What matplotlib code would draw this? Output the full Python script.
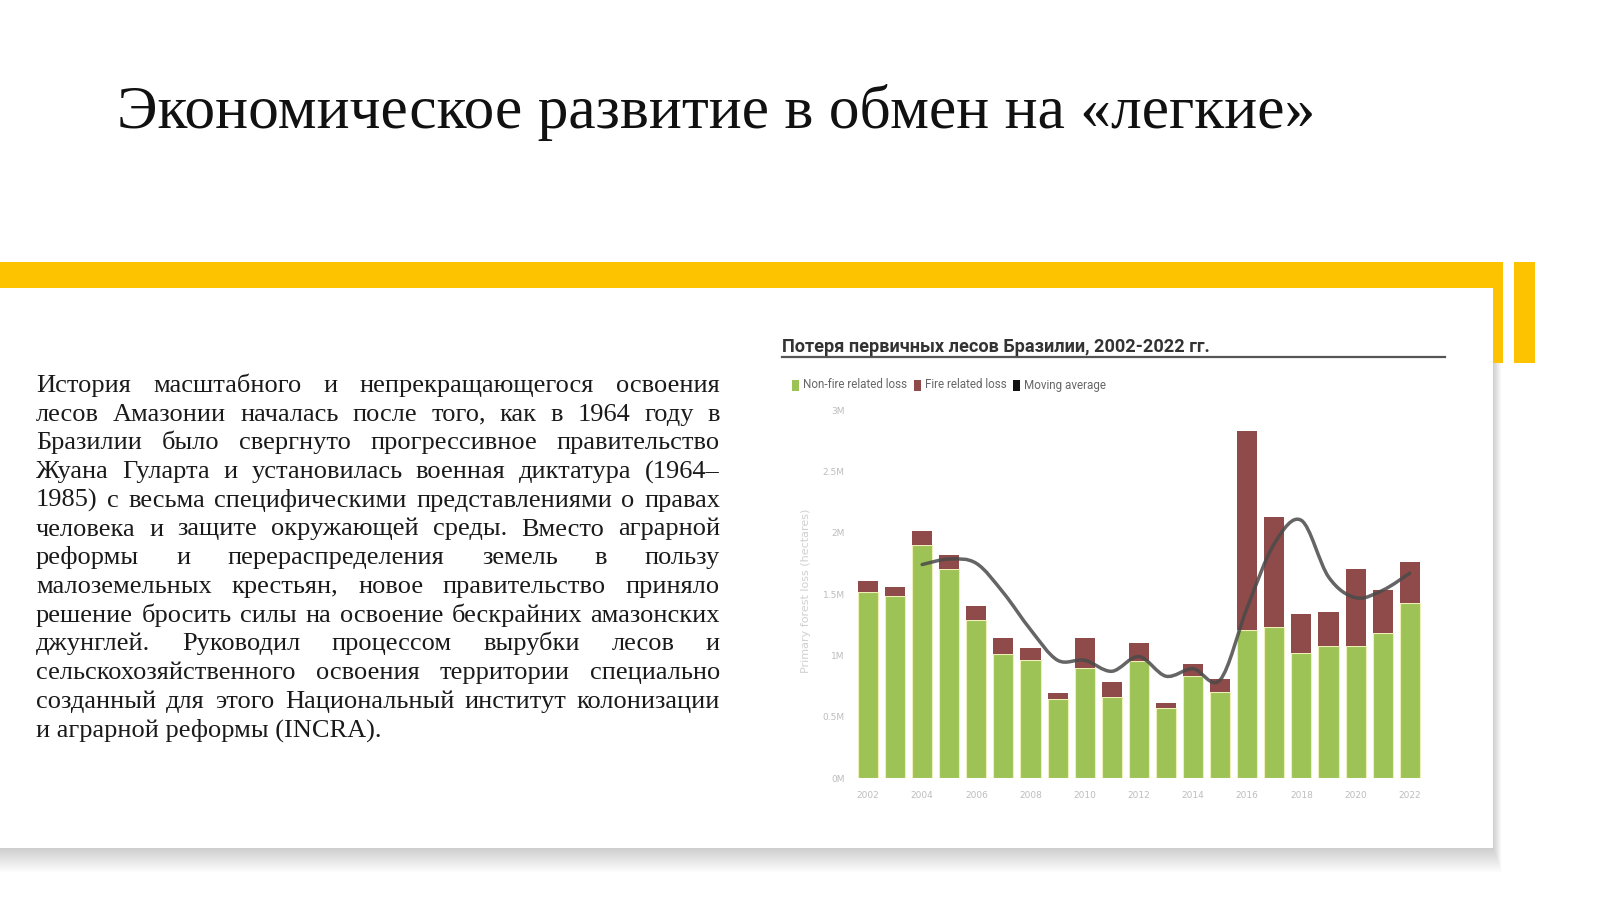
import matplotlib
matplotlib.use('Agg')
import matplotlib.pyplot as plt
import numpy as np
from matplotlib.patches import Rectangle, PathPatch
from matplotlib.path import Path

# ---- data (million hectares) ----
years = list(range(2002, 2023))
non_fire = [1.52, 1.48, 1.90, 1.70, 1.29, 1.01, 0.96, 0.64, 0.90, 0.66, 0.95,
            0.57, 0.83, 0.70, 1.21, 1.23, 1.02, 1.08, 1.08, 1.18, 1.43]
fire = [0.09, 0.08, 0.11, 0.12, 0.11, 0.13, 0.10, 0.05, 0.24, 0.12, 0.15,
        0.04, 0.10, 0.11, 1.62, 0.90, 0.32, 0.27, 0.62, 0.35, 0.33]
avg_years = list(range(2004, 2023))
moving_avg = [1.74, 1.785, 1.75, 1.51, 1.21, 0.96, 0.96, 0.87, 0.99, 0.83,
              0.89, 0.80, 1.39, 1.91, 2.10, 1.64, 1.47, 1.53, 1.67]
y_ticks = [0, 0.5, 1, 1.5, 2, 2.5, 3]
y_tick_labels = ['0M', '0.5M', '1M', '1.5M', '2M', '2.5M', '3M']
x_ticks = list(range(2002, 2023, 2))
legend_labels = ['Non-fire related loss', 'Fire related loss', 'Moving average']

title = 'Экономическое развитие в обмен на «легкие»'
chart_title = 'Потеря первичных лесов Бразилии, 2002-2022 гг.'
body_lines = [
    'История масштабного и непрекращающегося освоения',
    'лесов Амазонии началась после того, как в 1964 году в',
    'Бразилии было свергнуто прогрессивное правительство',
    'Жуана Гуларта и установилась военная диктатура (1964–',
    '1985) с весьма специфическими представлениями о правах',
    'человека и защите окружающей среды. Вместо аграрной',
    'реформы и перераспределения земель в пользу',
    'малоземельных крестьян, новое правительство приняло',
    'решение бросить силы на освоение бескрайних амазонских',
    'джунглей. Руководил процессом вырубки лесов и',
    'сельскохозяйственного освоения территории специально',
    'созданный для этого Национальный институт колонизации',
    'и аграрной реформы (INCRA).',
]

yellow = '#fdc300'
green = '#9dc256'
brown = '#8e4b49'
sans = ['Roboto', 'DejaVu Sans']

fig = plt.figure(figsize=(16, 8.99), dpi=100)

# background layer in pixel coordinates
bg = fig.add_axes([0, 0, 1, 1])
bg.set_xlim(0, 1600)
bg.set_ylim(899, 0)
bg.axis('off')

# card shadow + card
for k in range(1, 13):
    bg.add_patch(Rectangle((0, 292), 1493 + k * 0.7, 556 + k * 2,
                           color='black', alpha=0.014, lw=0))
bg.add_patch(Rectangle((0, 288), 1493, 560, color='white', lw=0))

# yellow band
bg.add_patch(Rectangle((0, 262), 1503, 26, color=yellow, lw=0))
bg.add_patch(Rectangle((1493, 262), 10, 101, color=yellow, lw=0))
bg.add_patch(Rectangle((1514, 262), 21, 101, color=yellow, lw=0))

# slide title
bg.text(117, 128, title, fontsize=44.3, family='Liberation Serif',
        va='baseline', color='#111111')

# justified body text
renderer = fig.canvas.get_renderer()
left, right = 36, 720
for i, line in enumerate(body_lines):
    y = 392 + 28.7 * i
    if i == len(body_lines) - 1:
        bg.text(left, y, line, fontsize=19, family='Liberation Serif',
                va='baseline', color='#1a1a1a')
        continue
    words = line.split(' ')
    texts = [bg.text(0, y, w, fontsize=19, family='Liberation Serif',
                     va='baseline', color='#1a1a1a') for w in words]
    widths = [t.get_window_extent(renderer).width for t in texts]
    gap = (right - left - sum(widths)) / (len(words) - 1)
    x = left
    for t, w in zip(texts, widths):
        t.set_x(x)
        x += w + gap

# chart title, rule and legend
bg.text(782, 352, chart_title, fontsize=13.1, weight='bold', family=sans,
        va='baseline', color='#333333')
bg.plot([782, 1445], [357, 357], color='#555555', lw=1.6)
legend_x = [792, 914, 1013]
legend_colors = [green, brown, '#111111']
for lx, lc, lab in zip(legend_x, legend_colors, legend_labels):
    bg.add_patch(Rectangle((lx, 379.5), 7, 11, color=lc, lw=0))
    bg.text(lx + 11, 385, lab, fontsize=8.4, family=sans,
            va='center', color='#666666')

# ---- chart ----
ax = fig.add_axes([851.7 / 1600, 1 - 778 / 899, 574.3 / 1600, 368 / 899])
ax.set_facecolor('none')
ax.bar(years, non_fire, width=0.74, color=green, edgecolor='#eef0b8',
       linewidth=0.8)
ax.bar(years, fire, bottom=non_fire, width=0.74, color=brown, linewidth=0)

# smooth moving-average curve (Catmull-Rom through the yearly values)
pts = np.column_stack([avg_years, moving_avg]).astype(float)
ext = np.vstack([pts[0], pts, pts[-1]])
verts = [pts[0]]
codes = [Path.MOVETO]
for i in range(len(pts) - 1):
    p0, p1, p2, p3 = ext[i], ext[i + 1], ext[i + 2], ext[i + 3]
    verts += [p1 + (p2 - p0) / 6, p2 - (p3 - p1) / 6, p2]
    codes += [Path.CURVE4] * 3
ax.add_patch(PathPatch(Path(verts, codes), fill=False, edgecolor='#4a4a4a',
                       lw=2.5, alpha=0.85, capstyle='round'))

ax.set_xlim(2001.4, 2022.6)
ax.set_ylim(0, 3)
ax.set_yticks(y_ticks, y_tick_labels)
ax.set_xticks(x_ticks)
for s in ax.spines.values():
    s.set_visible(False)
ax.tick_params(axis='both', length=0, colors='#bdbdbd', labelsize=6.5)
ax.tick_params(axis='x', pad=9)
ax.tick_params(axis='y', pad=5)
ax.set_ylabel('Primary forest loss (hectares)', color='#d0d0d0', fontsize=8)
ax.yaxis.set_label_coords(-0.07, 0.51)

fig.savefig('out.png', dpi=100)
